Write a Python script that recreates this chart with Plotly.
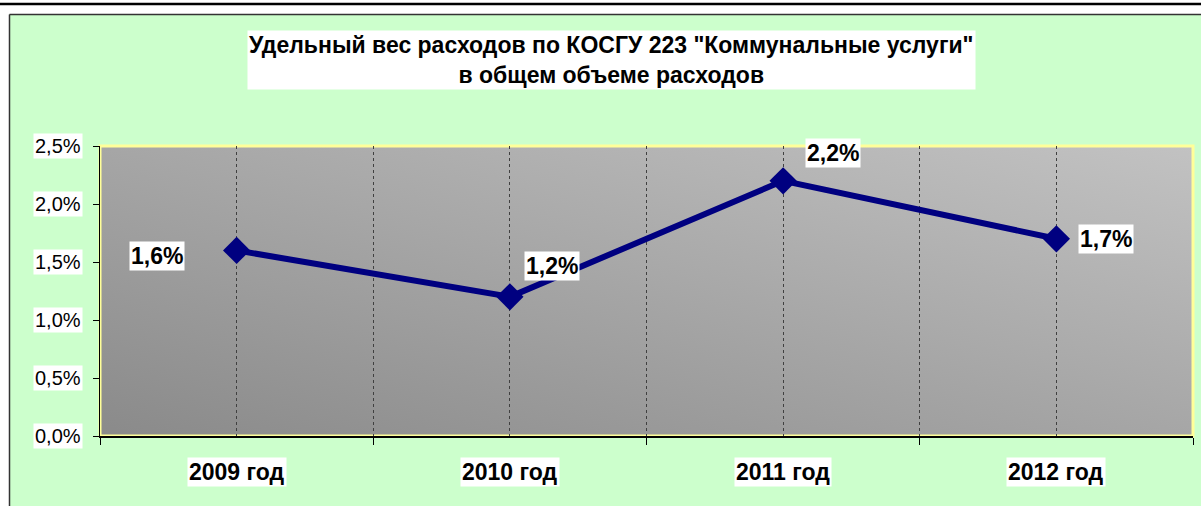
import base64
import plotly.graph_objects as go

# ---- data ----
years = ["2009 год", "2010 год", "2011 год", "2012 год"]
shares = [0.016, 0.012, 0.022, 0.017]          # share of expenses (fraction)
share_labels = ["1,6%", "1,2%", "2,2%", "1,7%"]
y_ticks = [0.0, 0.005, 0.010, 0.015, 0.020, 0.025]
y_tick_labels = ["0,0%", "0,5%", "1,0%", "1,5%", "2,0%", "2,5%"]
title_text = 'Удельный вес расходов по КОСГУ 223 "Коммунальные услуги"<br>в общем объеме расходов'

# ---- geometry (pixels) ----
W, H = 1201, 506
L, R, T, B = 100, 1193, 146, 436
PW, PH = R - L, B - T

def px(x):
    return (x - L) / PW

def py(y):
    return (B - y) / PH

FONT = "Liberation Sans, Arial, sans-serif"
NAVY = "#000080"
GREEN = "#CCFFCC"

xs = list(range(len(years)))

fig = go.Figure()
fig.add_trace(go.Scatter(
    x=xs, y=shares, mode="lines+markers",
    line=dict(color=NAVY, width=6),
    marker=dict(symbol="diamond", size=21, color=NAVY),
    hoverinfo="skip", showlegend=False,
))

# gradient background for plot area
svg = (
    '<svg xmlns="http://www.w3.org/2000/svg" width="1093" height="290" '
    'preserveAspectRatio="none"><defs><linearGradient id="g" x1="0" y1="1" x2="1" y2="0">'
    '<stop offset="0" stop-color="#8A8A8A"/><stop offset="1" stop-color="#C2C2C2"/>'
    '</linearGradient></defs><rect width="1093" height="290" fill="url(#g)"/></svg>'
)
src = "data:image/svg+xml;base64," + base64.b64encode(svg.encode()).decode()

shapes = [
    # white strip at top and left
    dict(type="rect", xref="paper", yref="paper", x0=px(-5), x1=px(W + 5), y0=py(14), y1=py(-5),
         fillcolor="white", line=dict(width=0), layer="below"),
    dict(type="rect", xref="paper", yref="paper", x0=px(-5), x1=px(9), y0=py(H + 5), y1=py(-5),
         fillcolor="white", line=dict(width=0), layer="below"),
    # black top rule
    dict(type="line", xref="paper", yref="paper", x0=px(0), x1=px(W), y0=py(4), y1=py(4),
         line=dict(color="black", width=2.5), layer="below"),
    # chart area border
    dict(type="line", xref="paper", yref="paper", x0=px(9.5), x1=px(W), y0=py(14.5), y1=py(14.5),
         line=dict(color="#333333", width=1.5), layer="below"),
    dict(type="line", xref="paper", yref="paper", x0=px(9.5), x1=px(9.5), y0=py(14.5), y1=py(H),
         line=dict(color="#333333", width=1.5), layer="below"),
    # yellow plot area border
    dict(type="rect", xref="paper", yref="paper", x0=0, x1=1, y0=0, y1=1,
         line=dict(color="#FFFF99", width=3), layer="below"),
]

annotations = [
    dict(text="<b>" + title_text + "</b>", xref="paper", yref="paper",
         x=px(611), y=py(30), xanchor="center", yanchor="top", showarrow=False,
         font=dict(family=FONT, size=23, color="black"), bgcolor="white", borderpad=1),
]
for v, t in zip(y_ticks, y_tick_labels):
    annotations.append(dict(text=t, xref="paper", yref="y", x=0, y=v, xanchor="right",
                            yanchor="middle", xshift=-17, showarrow=False,
                            font=dict(family=FONT, size=20, color="black"),
                            bgcolor="white", borderpad=1))
for xi, t in zip(xs, years):
    annotations.append(dict(text="<b>" + t + "</b>", xref="x", yref="paper", x=xi, y=0,
                            xanchor="center", yanchor="top", yshift=-21, showarrow=False,
                            font=dict(family=FONT, size=23, color="black"),
                            bgcolor="white", borderpad=1))
label_shift = [(-80, -6), (42, 31), (50, 28), (50, 0)]
for xi, v, t, (dx, dy) in zip(xs, shares, share_labels, label_shift):
    annotations.append(dict(text="<b>" + t + "</b>", xref="x", yref="y", x=xi, y=v,
                            xanchor="center", yanchor="middle", xshift=dx, yshift=dy,
                            showarrow=False, font=dict(family=FONT, size=23, color="black"),
                            bgcolor="white", borderpad=1))

fig.update_layout(
    width=W, height=H,
    margin=dict(l=L, r=W - R, t=T, b=H - B, pad=0),
    paper_bgcolor=GREEN,
    plot_bgcolor="rgba(0,0,0,0)",
    images=[dict(source=src, xref="paper", yref="paper", x=0, y=1, sizex=1, sizey=1,
                 xanchor="left", yanchor="top", sizing="stretch", layer="below")],
    shapes=shapes,
    annotations=annotations,
    separators=", ",
    xaxis=dict(
        range=[-0.5, len(years) - 0.5], tickvals=xs, showticklabels=False, ticks="",
        showgrid=True, gridcolor="#404040", griddash="dot", gridwidth=1,
        showline=True, linecolor="black", linewidth=1.5, zeroline=False,
        minor=dict(tick0=0.5, dtick=1, showgrid=True, gridcolor="#404040", griddash="dot",
                   gridwidth=1, ticks="outside", ticklen=7, tickcolor="black", tickwidth=1),
        fixedrange=True,
    ),
    yaxis=dict(
        range=[0, 0.025], tickvals=y_ticks, showticklabels=False, ticks="outside",
        ticklen=6, tickcolor="black", tickwidth=1, showgrid=False, zeroline=False,
        showline=True, linecolor="black", linewidth=1, fixedrange=True,
    ),
)

fig.write_html(
    "out.html",
    config={"displayModeBar": False},
    post_script="document.body.style.margin='0';document.body.style.overflow='hidden';",
)
